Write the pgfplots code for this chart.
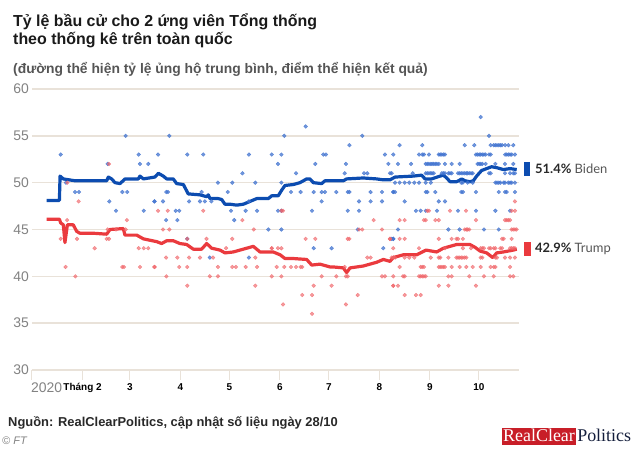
\documentclass[border=0pt]{standalone}
\usepackage{fontspec}
\setmainfont{Liberation Sans}
\newfontfamily\latofont{Lato}
\newfontfamily\rcpfont{Liberation Serif}
\usepackage{pgfplots}
\pgfplotsset{compat=1.18}
\definecolor{bidenline}{RGB}{12,76,176}
\definecolor{bidendot}{RGB}{66,116,208}
\definecolor{trumpline}{RGB}{234,58,62}
\definecolor{trumpdot}{RGB}{240,100,104}
\definecolor{gridc}{RGB}{233,226,217}
\definecolor{titlec}{RGB}{26,26,26}
\definecolor{subc}{RGB}{85,85,85}
\definecolor{ylabc}{RGB}{130,130,130}
\definecolor{footc}{RGB}{40,40,40}
\definecolor{rcpred}{RGB}{200,30,40}
\definecolor{rcpnavy}{RGB}{20,30,60}
\begin{document}
\begin{tikzpicture}[x=1bp,y=1bp]
\begin{axis}[
  scale only axis,
  width=487bp, height=281bp,
  xmin=0, xmax=298.6, ymin=30, ymax=60,
  axis x line*=bottom, axis y line*=left,
  x axis line style={draw=gridc, line width=1.5bp, -},
  y axis line style={draw=none},
  ytick={30,35,...,60}, ymajorgrids,
  grid style={draw=gridc, line width=1.5bp},
  xtick={0,31,60,91,121,152,182,213,244,274},
  xticklabels={,Tháng 2,3,4,5,6,7,8,9,10},
  tick align=outside, major tick length=10bp,
  xtick style={draw=gridc, line width=1bp},
  ytick style={draw=none},
  /pgf/number format/assume math mode=true,
  yticklabel style={font=\fontsize{14}{16}\selectfont, text=ylabc, inner sep=1bp, xshift=8bp},
  xticklabel style={font=\bfseries\fontsize{10}{12}\selectfont, text=black},
  clip=false,
]
% Biden polls
\addplot[only marks, mark=*, mark size=1.9bp, color=bidendot, opacity=0.75] coordinates {
(57.4,55) (17.6,53) (65.4,53) (46.4,52) (66.2,52) (71.3,52) (20.8,50) (26.4,49) (28.8,49) (55.4,49) (58.4,49) (47.4,48) (75,48) (51.5,47) (68.5,47)
(84.2,55) (77.3,53) (95.2,53) (105,53) (133,53) (147,53) (129,51) (114,50) (122.8,50) (136.9,50) (82.4,49) (83.4,49) (104,49) (120,49) (75.2,48) (80.3,48) (96.3,48) (103,48) (106,48) (110,48) (133,48) (88.1,47) (90.3,47) (122,47) (131,47) (138,47) (82.2,46) (89.1,46) (124,46) (144.9,45) (95.2,44) (109,42) (133,42)
(167.8,56) (154.7,55) (202.5,55) (194.6,54) (152.9,53) (178.6,53) (180.2,53) (216.4,53) (221.5,53) (150.8,52) (173.7,52) (192.5,52) (218.5,52) (161.9,51) (191.7,51) (203.6,51) (205.6,51) (219.5,51) (152.9,50) (158.8,49) (164.7,49) (172.7,49) (177.6,49) (179.6,49) (186.6,49) (193.6,49) (194.6,49) (207.6,49) (214.6,49) (221.5,49) (177.6,48) (200.5,48) (207.6,48) (214.6,48) (150.8,47) (152.9,47) (171.7,47) (193.6,47) (200.5,47) (152.9,45) (199.7,45) (221.5,44) (172.7,43) (183.7,43) (215.4,43)
(275.1,57) (280.2,55)
(225.4,54) (239.3,54) (265.3,54) (271.2,54) (281.2,54) (283.1,54) (284.1,54) (285.1,54) (286.2,54) (287.2,54) (288.2,54) (290.1,54) (292.1,54) (295.1,54)
(237.3,53) (239.3,53) (240.3,53) (243.4,53) (249.4,53) (250.3,53) (251.3,53) (252.3,53) (253.2,53) (272.2,53) (273.2,53) (274.2,53) (275.1,53) (276.1,53) (277.1,53) (278.1,53) (280.2,53) (281.2,53) (290.1,53) (291.1,53) (292.1,53) (293.1,53) (294.1,53) (296.1,53)
(224.4,52) (232.4,52) (241.4,52) (242.4,52) (243.4,52) (244.5,52) (245.3,52) (246.3,52) (247.3,52) (248.3,52) (249.4,52) (253.2,52) (257.3,52) (262.2,52) (273.2,52) (274.2,52) (275.1,52) (276.1,52) (278.1,52) (284.1,52) (290,52) (295.1,52)
(220.5,51) (233.4,51) (241.4,51) (242.4,51) (243.4,51) (244.5,51) (245.3,51) (246.3,51) (251.3,51) (252.3,51) (253.2,51) (255.3,51) (256.3,51) (257.3,51) (261.2,51) (262.2,51) (263.2,51) (264.2,51) (265.3,51) (266.3,51) (267.1,51) (268.1,51) (269.2,51) (270.2,51) (280.2,51) (281.2,51) (290,51) (293.1,51) (295.1,51) (296.1,51)
(222.6,50) (225.4,50) (228.5,50) (231.3,50) (234.4,50) (237.3,50) (241.4,50) (244.5,50) (263.2,50) (264.2,50) (267.1,50) (270.2,50) (284.1,50) (285.1,50) (286.2,50) (287.2,50) (289.2,50) (290,50) (292,50) (293.1,50) (294.1,50) (296.1,50)
(221.5,49) (222.6,49) (241.4,49) (242.4,49) (247.3,49) (263.2,49) (264.2,49) (272.2,49) (286.2,49) (290,49) (291,49) (296.1,49)
(228.5,48) (249.4,48) (253.2,48)
(235.4,47) (238.3,47) (241.4,47) (248.3,47) (261.2,47) (272.2,47) (284.1,47) (293.1,47)
(224.4,45) (255.3,45) (262.2,45) (277.1,45) (286.2,45)
(220.5,44) (221.5,44)
};
% Trump polls
\addplot[only marks, mark=*, mark size=1.9bp, color=trumpdot, opacity=0.65] coordinates {
(47.2,52) (21.7,50) (28.6,48) (21.5,46) (58.2,46) (46.4,45) (51.5,45) (57.4,45) (17.6,44) (27.6,44) (45.8,44) (47.2,44) (38.4,43) (65.4,43) (68.5,43) (71.3,43) (20.6,41) (55.4,41) (56.4,41) (66.2,41) (75,41) (26.6,40)
(77.3,47) (83.2,47) (105,47) (80.3,45) (84.2,45) (136,45) (129,46) (95.2,44) (107,44) (122.8,44) (147,43) (119,43) (82.2,42) (89.1,42) (96.3,42) (103,42) (111,42) (136.9,42) (75.2,41) (90.3,41) (95.2,41) (114,41) (122.8,41) (125,41) (131,41) (138,41) (82.4,40) (109,40) (114,40) (95.2,39) (136.9,39)
(152.9,47) (153.9,47) (209.5,46) (200.5,45) (202.5,45) (214.6,45) (167.8,44) (173.7,44) (193.6,44) (194.6,44) (219.5,44) (147,43) (150.8,43) (152.9,43) (205.6,42) (207.6,42) (221.5,42) (150,41) (154.7,41) (158.8,41) (161.9,41) (164.7,41) (165.7,41) (191.7,41) (147,40) (152.9,40) (177.6,40) (186.6,40) (192.5,40) (193.6,40) (214.6,40) (216.4,40) (221.5,39) (172.7,39) (183.7,39) (165.7,38) (171.7,38) (199.7,38) (153.9,37) (192.5,37) (171.7,36)
(296.1,48)
(242.4,47) (243.4,47) (256.3,47) (266.1,47) (294.1,47) (296.1,47)
(225.4,46) (228.5,46) (240.3,46) (241.4,46) (247.3,46) (249.4,46) (272.2,46) (290,46) (291,46) (292,46) (293.1,46)
(265.3,45) (266.3,45) (267.1,45) (268.1,45) (294.1,45) (295.1,45) (296.1,45) (297.1,45)
(219.5,44) (225.4,44) (228.5,44) (249.4,44) (257.3,44) (260.2,44) (261.2,44) (264.2,44) (288.2,44) (289.2,44) (294.1,44)
(221.5,43) (237.3,43) (253.2,43) (264.2,43) (269.2,43) (275.1,43) (276.1,43) (277.1,43) (280.2,43) (281.2,43) (283.1,43) (284.1,43) (287.1,43) (288.2,43) (293.1,43) (294.1,43) (295.1,43) (296.1,43)
(220.5,42) (221.5,42) (222.6,42) (228.5,42) (231.3,42) (234.4,42) (244.5,42) (249.4,42) (250.3,42) (255.3,42) (260.2,42) (261.2,42) (262.2,42) (263.2,42) (264.2,42) (265.3,42) (266.3,42) (275.1,42) (276.1,42) (284.1,42) (285.1,42) (290,42) (293.1,42) (296.1,42)
(225.4,41) (238.3,41) (239.3,41) (240.3,41) (249.4,41) (250.3,41) (251.3,41) (252.3,41) (253.2,41) (257.3,41) (262.2,41) (266.3,41) (270.2,41) (275.1,41) (281.2,41) (283.1,41) (284.1,41) (293.1,41)
(221.5,40) (227.5,40) (228.5,40) (237.3,40) (238.3,40) (239.3,40) (240.3,40) (241.4,40) (255.3,40) (257.3,40) (268.1,40) (277.1,40) (283.1,40) (293.1,40) (295.1,40)
(221.5,39) (224.4,39) (249.4,39) (255.3,39) (272.2,39)
(228.5,38) (235.4,38) (238.3,38)
};
% Biden average
\addplot[bidenline, line width=3.2bp, line join=round] coordinates {
(9,48.1) (16.8,48.1) (17.2,50.7) (19.2,50.4) (26.4,50.2) (45.8,50.2) (46.8,50.6) (48.8,50.4) (50.9,50.0) (54,49.9) (57,50.4) (65.2,50.4) (66.2,50.7) (68.3,50.4) (75.4,50.6) (77.5,51.0) (80.5,50.7) (82.6,50.4) (86.6,50.4) (88.7,49.9) (92.8,49.8) (95.8,48.8) (103,48.7) (107.1,48.5) (108.1,48.7) (109.1,48.3) (114.2,48.3) (116.3,48.2) (118.3,47.7) (121.4,47.7) (125.5,47.6) (129.6,47.7) (133.7,48.0) (137.8,48.3) (144.9,48.3) (147,48.6) (151,48.6) (153.1,49.2) (155.1,49.7) (160.2,49.8) (164.3,50.0) (168.4,50.4) (170.4,50.4) (172.5,50.0) (177.6,49.9) (179.6,50.2) (190.9,50.2) (192.9,50.4) (203.1,50.5) (211.3,50.4) (215.4,50.3) (219.5,50.3) (222.6,50.6) (233.8,50.7) (238.9,50.8) (241,50.4) (245,50.4) (250.2,50.7) (252.2,50.8) (254.3,50.5) (256.3,50.1) (260.4,50.1) (263.5,50.4) (265.5,50.2) (268.5,50.1) (270.6,50.2) (272.6,50.7) (275.7,51.3) (281.8,51.7) (284.9,51.6) (289,51.4) (293.1,51.5) (297.2,51.4)
};
% Trump average
\addplot[trumpline, line width=3.2bp, line join=round] coordinates {
(9,46.1) (16.8,46.1) (17.6,45.7) (19.2,45.5) (20.2,43.6) (21.7,45.5) (25.3,45.5) (27.4,44.8) (29.4,44.6) (37.6,44.6) (45.8,44.5) (47.8,45.0) (56,45.1) (57,44.4) (64.2,44.4) (68.3,44.0) (76.5,43.7) (79.5,43.5) (82.6,43.8) (86.6,43.8) (90.7,43.5) (94.8,43.4) (98.9,42.9) (104,42.9) (107.1,43.5) (110.2,43.0) (115.3,42.8) (118.3,42.5) (123.4,42.6) (131.6,43.0) (135.7,43.2) (139.8,42.6) (147.9,42.6) (152.1,42.3) (155.1,41.9) (160.2,41.9) (168.4,41.8) (171.5,41.2) (176.6,41.3) (182.7,41.0) (184.7,41.0) (190.9,40.9) (192.9,40.4) (195,40.9) (203.1,41.1) (211.3,41.5) (215.4,41.8) (219.5,41.6) (221.5,42.0) (227.7,42.3) (235.9,42.3) (241.6,42.8) (248.1,42.6) (252.2,43.0) (256.3,43.2) (260.4,43.4) (268.5,43.4) (271.6,43.1) (274.7,42.7) (278.8,42.5) (282.5,42.0) (284.9,42.5) (289,42.6) (295.1,42.8) (297.2,42.9)
};
\coordinate (O) at (axis cs:0,30);
\end{axis}

\coordinate (Z) at ([shift={(-32,-81)}]O);
\begin{scope}[shift={(Z)}]
\node[anchor=base west, inner sep=0, font=\bfseries\fontsize{16}{18}\selectfont, text=titlec] at (13,451-26.7) {Tỷ lệ bầu cử cho 2 ứng viên Tổng thống};
\node[anchor=base west, inner sep=0, font=\bfseries\fontsize{16}{18}\selectfont, text=titlec] at (13,451-44.3) {theo thống kê trên toàn quốc};
\node[anchor=base west, inner sep=0, font=\bfseries\fontsize{13.9}{16}\selectfont, text=subc] at (13,451-74) {(đường thể hiện tỷ lệ ủng hộ trung bình, điểm thể hiện kết quả)};

\node[anchor=base west, inner sep=0, font=\fontsize{14}{16}\selectfont, text=ylabc] at (31,451-393) {2020};

\fill[bidenline] (524,451-176) rectangle (530,451-162);
\node[anchor=west, inner sep=0, font=\latofont\fontsize{13}{15}\selectfont] at (535,451-169) {\textcolor{footc}{\bfseries 51.4\%} \textcolor{subc}{Biden}};
\fill[trumpline] (524,451-256) rectangle (531,451-242);
\node[anchor=west, inner sep=0, font=\latofont\fontsize{13}{15}\selectfont] at (535,451-249) {\textcolor{footc}{\bfseries 42.9\%} \textcolor{subc}{Trump}};

\node[anchor=base west, inner sep=0, font=\bfseries\fontsize{12.95}{15}\selectfont, text=footc] at (8,451-427) {Nguồn: RealClearPolitics, cập nhật số liệu ngày 28/10};
\node[anchor=base west, inner sep=0, font=\itshape\fontsize{11}{13}\selectfont, text=ylabc] at (2,451-445) {© FT};

\node[anchor=west, fill=rcpred, text=white, inner xsep=1bp, inner ysep=0bp, text height=13bp, text depth=4bp, font=\rcpfont\fontsize{18}{18}\selectfont] (rc) at (502,451-437) {RealClear};
\node[anchor=west, inner xsep=1bp, inner ysep=0bp, text height=13bp, text depth=4bp, text=rcpnavy, font=\rcpfont\fontsize{18}{18}\selectfont] at (rc.east) {Politics};

\pgfresetboundingbox
\path (0,0) rectangle (640,451);
\end{scope}
\end{tikzpicture}
\end{document}
